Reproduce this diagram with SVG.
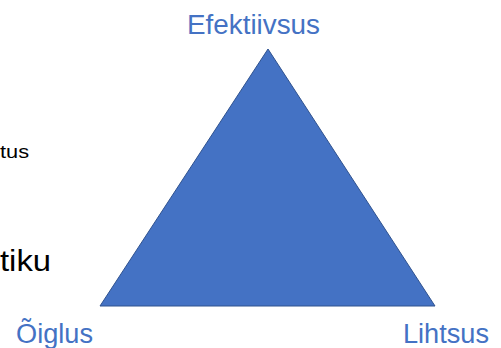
<svg xmlns="http://www.w3.org/2000/svg" width="501" height="348" viewBox="0 0 501 348">
<style>
.lbl{font-family:"Liberation Sans","Open Sans",sans-serif;font-size:27px;fill:#4472C4}
.blk{font-family:"Liberation Sans","Open Sans",sans-serif;fill:#000000}
</style>
<rect width="501" height="348" fill="#ffffff"/>
<g id="bg-text">
<text class="blk" x="0" y="158" font-size="18" textLength="29" lengthAdjust="spacingAndGlyphs">tus</text>
<text class="blk" x="0" y="271" font-size="29" textLength="51" lengthAdjust="spacingAndGlyphs">tiku</text>
</g>
<g id="triangle">
<polygon points="268,49 100,306 435,306" fill="#4472C4" stroke="#2F528F" stroke-width="1"/>
</g>
<g id="efektiivsus">
<text class="lbl" x="187" y="34" textLength="133" lengthAdjust="spacingAndGlyphs">Efektiivsus</text>
</g>
<g id="oiglus">
<text class="lbl" x="16" y="343" textLength="77" lengthAdjust="spacingAndGlyphs">Õiglus</text>
</g>
<g id="lihtsus">
<text class="lbl" x="403" y="343" textLength="86" lengthAdjust="spacingAndGlyphs">Lihtsus</text>
</g>
</svg>
